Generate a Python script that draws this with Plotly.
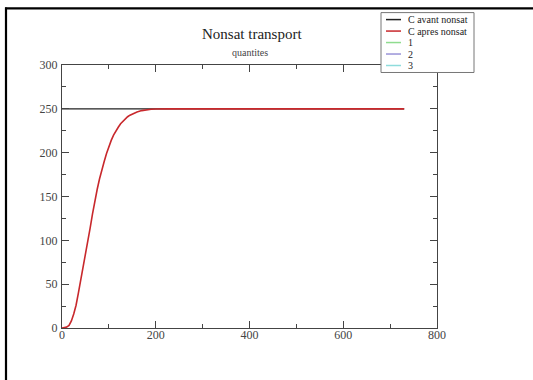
import plotly.graph_objects as go

# ---- data ----
x_avant = [0, 730]
y_avant = [250, 250]

x_apres = [0, 5, 10, 15, 20, 25, 30, 35, 40, 45, 50, 55, 60, 65, 70, 75, 80, 85, 90, 95,
           100, 105, 110, 115, 120, 125, 130, 135, 140, 145, 150, 160, 170, 180, 190,
           200, 215, 230, 300, 400, 500, 600, 700, 730]
y_apres = [0, 0.3, 1, 3, 8, 16, 26, 40, 54, 69, 84, 99, 114, 130, 145, 158, 170, 181, 190, 199,
           207, 214, 220, 225, 229, 233, 236, 238.8, 241, 242.8, 244.3, 246.5, 248, 249, 249.5,
           249.8, 250, 250, 250, 250, 250, 250, 250, 250]

series_names = ["C avant nonsat", "C apres nonsat", "1", "2", "3"]
series_colors = ["#222222", "#c8282c", "#8fdc8f", "#9a94d8", "#8fdcdc"]

x_ticks = [0, 200, 400, 600, 800]
y_ticks = [0, 50, 100, 150, 200, 250, 300]

W, H = 533, 380
L, R, T, B = 62, 437, 64.5, 328


def px(xp):
    return (xp - L) / (R - L)


def py(yp):
    return (B - yp) / (B - T)


fig = go.Figure()
fig.add_trace(go.Scatter(x=x_avant, y=y_avant, mode="lines", name=series_names[0],
                         line=dict(color=series_colors[0], width=1.4)))
fig.add_trace(go.Scatter(x=x_apres, y=y_apres, mode="lines", name=series_names[1],
                         line=dict(color=series_colors[1], width=1.6)))

axis_common = dict(
    showline=True, linecolor="#444", linewidth=1, mirror="allticks",
    ticks="inside", ticklen=7, tickwidth=1, tickcolor="#444",
    showgrid=False, zeroline=False,
    tickfont=dict(family="Liberation Serif", size=12, color="#444"),
)

fig.update_xaxes(range=[0, 800], tickvals=x_ticks, ticklabelstandoff=-4,
                 minor=dict(ticks="inside", ticklen=4, tickcolor="#444", dtick=100, showgrid=False),
                 **axis_common)
fig.update_yaxes(range=[0, 300], tickvals=y_ticks, ticklabelstandoff=1,
                 minor=dict(ticks="inside", ticklen=4, tickcolor="#444", dtick=25, showgrid=False),
                 **axis_common)

shapes = []
annotations = []

# page frame (left and top edges)
shapes.append(dict(type="line", xref="paper", yref="paper", x0=px(6), x1=px(6),
                   y0=py(7), y1=py(382), line=dict(color="black", width=2.2), layer="above"))
shapes.append(dict(type="line", xref="paper", yref="paper", x0=px(5), x1=px(535),
                   y0=py(7.7), y1=py(7.7), line=dict(color="black", width=2.2), layer="above"))

# legend box
shapes.append(dict(type="rect", xref="paper", yref="paper", x0=px(381), x1=px(474),
                   y0=py(72), y1=py(12), fillcolor="white",
                   line=dict(color="#777", width=1), layer="above"))
leg_y = [19, 30.5, 42, 53.5, 65]
for name, col, yy in zip(series_names, series_colors, leg_y):
    shapes.append(dict(type="line", xref="paper", yref="paper", x0=px(386), x1=px(401),
                       y0=py(yy), y1=py(yy), line=dict(color=col, width=1.5), layer="above"))
    annotations.append(dict(xref="paper", yref="paper", x=px(406), y=py(yy),
                            xanchor="left", yanchor="middle", showarrow=False, text=name,
                            font=dict(family="Liberation Serif", size=10, color="#222")))

# titles
annotations.append(dict(xref="paper", yref="paper", x=px(252), y=py(33), xanchor="center",
                        yanchor="middle", showarrow=False, text="Nonsat transport",
                        font=dict(family="Liberation Serif", size=15, color="#222")))
annotations.append(dict(xref="paper", yref="paper", x=px(250), y=py(52), xanchor="center",
                        yanchor="middle", showarrow=False, text="quantites",
                        font=dict(family="Liberation Serif", size=10, color="#444")))

fig.update_layout(
    width=W, height=H,
    margin=dict(l=L, r=W - R, t=T, b=H - B, pad=0),
    paper_bgcolor="white", plot_bgcolor="white",
    showlegend=False,
    shapes=shapes, annotations=annotations,
)

fig.write_html("out.html")
